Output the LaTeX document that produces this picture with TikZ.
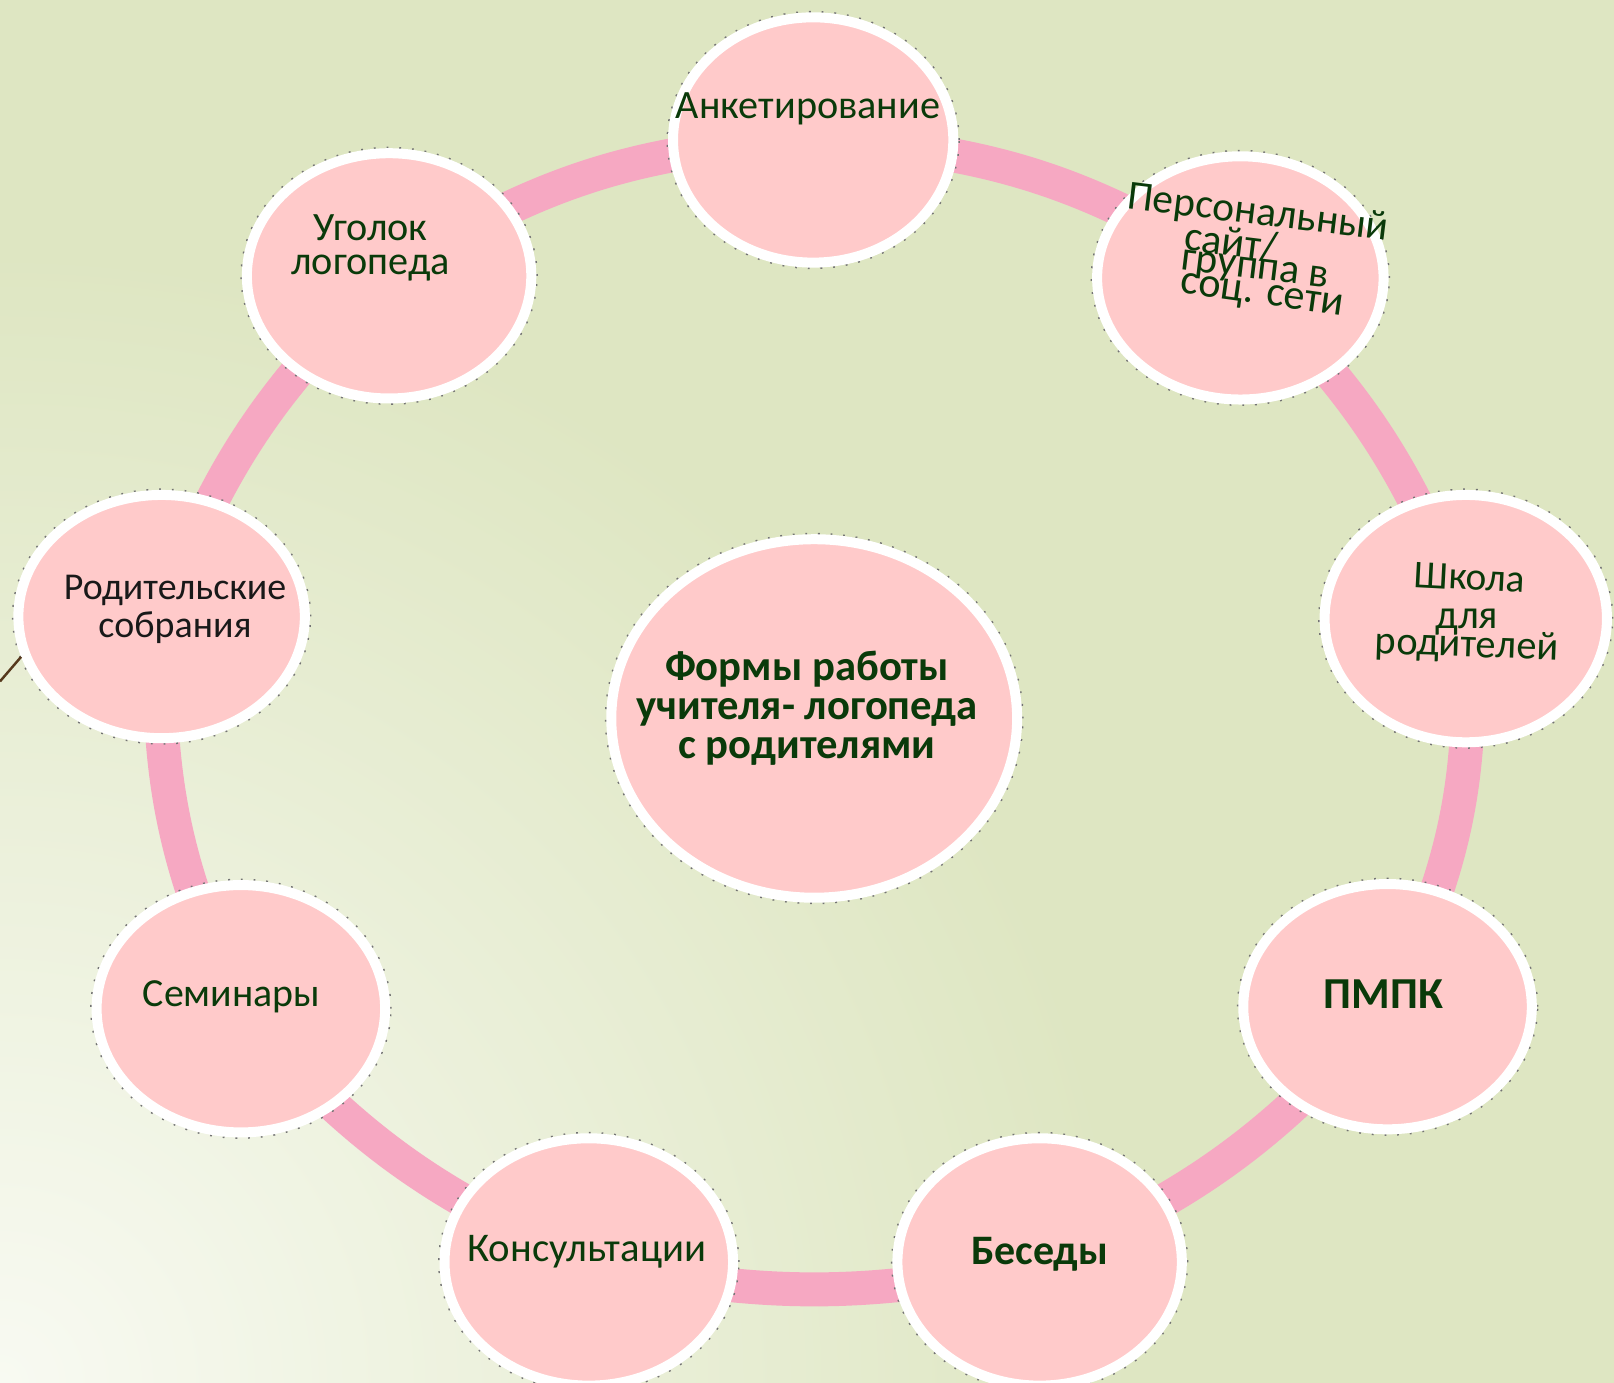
\documentclass[tikz,border=0pt]{standalone}
\usepackage{fontspec}
\setmainfont{Carlito}
\usetikzlibrary{shapes.geometric}
\definecolor{bgG}{HTML}{DEE6C2}
\definecolor{bgW}{HTML}{F8FAF2}
\definecolor{bubFill}{HTML}{FFCACA}
\definecolor{linkPink}{HTML}{F6A8C2}
\definecolor{txtG}{HTML}{0A3A0A}
\pgfdeclarelayer{bglayer}
\pgfdeclarelayer{linklayer}
\pgfsetlayers{bglayer,linklayer,main}
\begin{document}
\begin{tikzpicture}[x=0.010293cm,y=-0.010293cm,
  bub/.style={ellipse, fill=bubFill, draw=white, line width=0.1cm, inner sep=0pt,
    preaction={draw=black!55, line width=0.13cm, dash pattern=on 0.5pt off 3pt}},
  bubsize/.style 2 args={minimum width=#1*0.010293cm-0.1cm, minimum height=#2*0.010293cm-0.1cm},
  lbl/.style={text=txtG, align=center, inner sep=0pt},
  fs/.style 2 args={font=\fontsize{#1}{#2}\selectfont},
  bfs/.style 2 args={font=\fontsize{#1}{#2}\selectfont\bfseries},
  link/.style={draw=linkPink, line width=0.34cm},
  stub/.style={draw=black!55!brown, line width=0.7pt}
]
\useasboundingbox (0,0) rectangle (1568,1343.6);
\begin{pgfonlayer}{bglayer}
  \fill[bgG] (0,0) rectangle (1568,1343.6);
  \begin{scope}
    \clip (0,0) rectangle (1568,1343.6);
    \shade[inner color=bgW, outer color=bgG] (0,1343.6) circle (1100);
  \end{scope}
\end{pgfonlayer}

% bubbles
\node[bub, bubsize={282}{248}] (ank)  at (790,136)  {};
\node[bub, bubsize={288}{246}] (pers) at (1205,270) {};
\node[bub, bubsize={286}{248}] (ugol) at (378,268)  {};
\node[bub, bubsize={284}{250}] (shk)  at (1424,601) {};
\node[bub, bubsize={288}{246}] (rod)  at (157,599)  {};
\node[bub, bubsize={404}{358}] (cen)  at (791,698)  {};
\node[bub, bubsize={290}{248}] (pmpk) at (1348,978) {};
\node[bub, bubsize={290}{250}] (sem)  at (234,980)  {};
\node[bub, bubsize={290}{250}] (kons) at (572,1226) {};
\node[bub, bubsize={286}{250}] (bes)  at (1010,1226) {};

% links
\begin{pgfonlayer}{linklayer}
  \draw[link] (ank.center)  to[bend left=15] (pers.center);
  \draw[link] (pers.center) to[bend left=13] (shk.center);
  \draw[link] (shk.center)  to[bend left=15] (pmpk.center);
  \draw[link] (pmpk.center) to[bend left=13] (bes.center);
  \draw[link] (bes.center)  to[bend left=12] (kons.center);
  \draw[link] (kons.center) to[bend left=13] (sem.center);
  \draw[link] (sem.center)  to[bend left=14] (rod.center);
  \draw[link] (rod.center)  to[bend left=13] (ugol.center);
  \draw[link] (ugol.center) to[bend left=15] (ank.center);
\end{pgfonlayer}

\coordinate (stubend) at (0,662);
\draw[stub] (stubend) -- (rod.196);

% labels
\node[lbl, fs={11.45}{11}] (t-ank) at (785,106) {Анкетирование};
\node[lbl, fs={11.45}{9.7}] (t-ugol) at (360,241) {Уголок\\логопеда};
\node[lbl, fs={10.8}{10.7}, text=black!90] (t-rod) at (170,592) {Родительские\\собрания};
\node[lbl, bfs={12.15}{11.1}] (t-cen) at (784,688) {Формы работы\\учителя- логопеда\\с родителями};
\node[lbl, bfs={12.6}{12}] (t-pmpk) at (1344,966) {ПМПК};
\node[lbl, fs={11.35}{11}] (t-sem) at (225,968) {Семинары};
\node[lbl, fs={11.6}{11}] (t-kons) at (570,1216) {Консультации};
\node[lbl, bfs={11.95}{11}] (t-bes) at (1010,1219) {Беседы};

\node[lbl, rotate=-7, fs={11.8}{11}] (t-pers1) at (1222,208) {Персональный};
\node[lbl, rotate=-7, fs={12}{11}] (t-pers2) at (1196,235) {сайт/};
\node[lbl, rotate=-7, fs={11.9}{11}] (t-pers3) at (1219,264) {группа в};
\node[lbl, rotate=-8, fs={12}{11}] (t-pers4) at (1226,289) {соц. сети};

\node[lbl, rotate=-3, fs={11.2}{11}] (t-shk1) at (1428,561) {Школа};
\node[lbl, fs={11.6}{11}] (t-shk2) at (1425,604) {для};
\node[lbl, rotate=-2, fs={11.5}{11}] (t-shk3) at (1425,628) {родителей};
\end{tikzpicture}
\end{document}
